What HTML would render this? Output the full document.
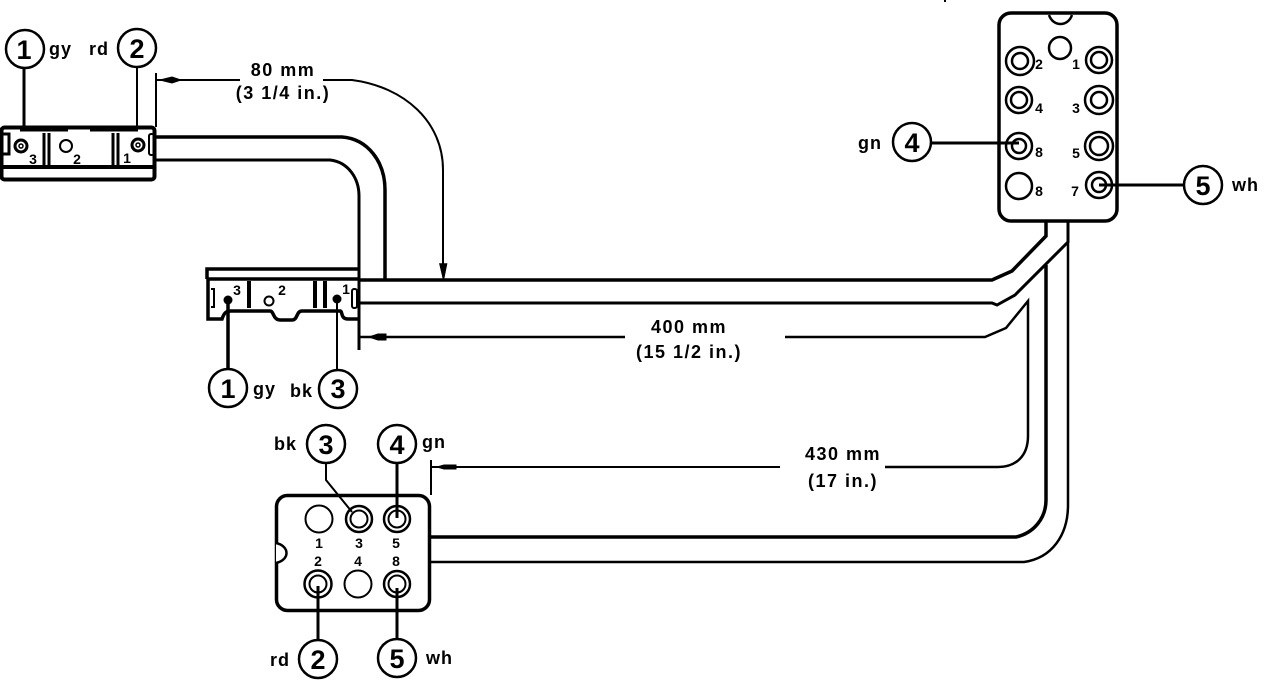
<!DOCTYPE html>
<html><head><meta charset="utf-8"><style>
html,body{margin:0;padding:0;background:#fff}
svg{display:block}
text{font-family:"Liberation Sans",sans-serif;font-weight:bold;fill:#000}
.n{font-size:27px;text-anchor:middle}
.l{font-size:18px;letter-spacing:1px}
.d{font-size:18px;text-anchor:middle;letter-spacing:1.500px}
.s{font-size:14px;text-anchor:middle}
</style></head><body>
<svg width="1264" height="680" viewBox="0 0 1264 680" xmlns="http://www.w3.org/2000/svg" fill="none" stroke="#000" stroke-width="3">
<path d="M945 0v2" stroke-width="2"/>
<!-- top-left connector -->
<rect x="1.500" y="127.500" width="153" height="52" rx="3" stroke-width="4"/>
<path d="M2 167H155" stroke-width="4"/>
<path d="M20 130H68M90 130H138" stroke-width="3"/>
<path d="M3 134H9V154H3M44 133V166M49 133V166M113 133V166M118 133V166" stroke-width="3"/>
<rect x="149" y="134" width="5" height="21" rx="2" stroke-width="2"/>
<circle cx="21" cy="146" r="6"/><circle cx="21" cy="146" r="2" stroke-width="1.500"/>
<circle cx="66" cy="146" r="6" stroke-width="2"/>
<circle cx="138" cy="145" r="6"/><circle cx="138" cy="145" r="2" stroke-width="1.500"/>
<text class="s" x="33" y="164" stroke="none">3</text><text class="s" x="77" y="164" stroke="none">2</text><text class="s" x="127" y="163" stroke="none">1</text>
<!-- top-left callouts -->
<circle cx="25" cy="49" r="19" stroke-width="2.500"/><circle cx="137" cy="48" r="19" stroke-width="2.500"/>
<text class="n" x="24" y="59" stroke="none">1</text><text class="n" x="137" y="58" stroke="none">2</text>
<text class="l" x="49" y="55" stroke="none">gy</text><text class="l" x="89" y="55" stroke="none">rd</text>
<path d="M24 68V127" stroke-width="3"/><path d="M137 68V127" stroke-width="2"/>
<path d="M156 73V127" stroke-width="2"/>
<!-- 80mm dimension -->
<path d="M157 80H240M323 80H352C405 87 443 122 443 170V270" stroke-width="2"/>
<path d="M160 80L172 77L181 80L172 83Z" fill="#000" stroke-width="1"/>
<path d="M440 264H446.500L443.500 279Z" fill="#000" stroke-width="1.500"/>
<text class="d" x="283" y="76" stroke="none">80 mm</text>
<text class="d" x="283" y="99" stroke="none">(3 1/4 in.)</text>
<!-- wires top-left to mid -->
<path d="M156 137H342C368 139 385 162 385 190V279" stroke-width="3.500"/>
<path d="M156 160H330C348 162 359 178 359 196V350" stroke-width="3"/>
<!-- mid connector -->
<path d="M207 279V269H358" stroke-width="3.500"/>
<path d="M207 279H358" stroke-width="3.500"/>
<path d="M208 279V319H222C224 313 226 311 231 311H270C274 311 273 320 280 320H292C298 320 296 311 302 311H340C343 311 340 319 348 319H358" stroke-width="3.500"/>
<path d="M211 289H214V307H211" stroke-width="2"/>
<path d="M249 281V308M315 281V308M325 281V308" stroke-width="4"/>
<rect x="352" y="289" width="5" height="19" rx="2" stroke-width="2"/>
<circle cx="228" cy="300" r="4.500" fill="#000" stroke="none"/><circle cx="337" cy="299" r="4.500" fill="#000" stroke="none"/>
<circle cx="269" cy="301" r="4.500" stroke-width="2"/>
<text class="s" x="237" y="295" stroke="none">3</text><text class="s" x="282" y="295" stroke="none">2</text><text class="s" x="346" y="294" stroke="none">1</text>
<path d="M228 300V369" stroke-width="3.500"/><path d="M337 300V369" stroke-width="2"/>
<circle cx="228" cy="388" r="19" stroke-width="2.500"/><circle cx="338" cy="389" r="19" stroke-width="2.500"/>
<text class="n" x="228" y="398" stroke="none">1</text><text class="n" x="338" y="398" stroke="none">3</text>
<text class="l" x="253" y="395" stroke="none">gy</text><text class="l" x="290" y="397" stroke="none">bk</text>
<!-- main bundle -->
<path d="M358 280H992L1012 271L1046 236V222" stroke-width="3.500"/>
<path d="M358 303H992L997 305L1015 295L1068 242V222" stroke-width="3"/>
<!-- 400mm dimension -->
<path d="M360 337H625M785 337H985L1006 328L1028 301V436C1028 456 1016 467 998 467H885" stroke-width="2.500"/>
<path d="M369 337L378 334H386V340H378Z" fill="#000" stroke-width="1"/>
<text class="d" x="689" y="333" stroke="none">400 mm</text>
<text class="d" x="689" y="358" stroke="none">(15 1/2 in.)</text>
<!-- 430mm dimension -->
<path d="M431 467H780" stroke-width="2"/>
<path d="M431 460V495" stroke-width="2"/>
<path d="M437 467L444 465H456V469H444Z" fill="#000" stroke-width="1"/>
<text class="d" x="843" y="460" stroke="none">430 mm</text>
<text class="d" x="843" y="487" stroke="none">(17 in.)</text>
<!-- bottom wires -->
<path d="M430 537H1016C1034 533 1046 518 1046 500V265" stroke-width="3.500"/>
<path d="M430 562H1024C1052 558 1068 535 1068 505V242" stroke-width="2.500"/>
<!-- bottom connector -->
<rect x="276.500" y="495.500" width="153" height="115" rx="11" stroke-width="3.500"/>
<path d="M276 543C290 546 290 560 276 563" fill="#fff" stroke-width="2.500"/>
<circle cx="319" cy="519" r="13.500" stroke-width="2"/>
<circle cx="359" cy="519" r="13" stroke-width="2.500"/><circle cx="359" cy="519" r="8.500" stroke-width="2"/>
<circle cx="397" cy="519" r="13" stroke-width="2.500"/><circle cx="397" cy="519" r="8.500" stroke-width="2"/>
<circle cx="318" cy="584" r="13.500" stroke-width="2.500"/><circle cx="318" cy="584" r="8.500" stroke-width="2"/>
<circle cx="358" cy="584" r="13.500" stroke-width="2"/>
<circle cx="397" cy="584" r="13" stroke-width="2.500"/><circle cx="397" cy="584" r="8.500" stroke-width="2"/>
<text class="s" x="319" y="548" stroke="none">1</text><text class="s" x="359" y="548" stroke="none">3</text><text class="s" x="396" y="548" stroke="none">5</text>
<text class="s" x="318" y="566" stroke="none">2</text><text class="s" x="358" y="566" stroke="none">4</text><text class="s" x="396" y="566" stroke="none">8</text>
<path d="M326 463V480L352 512" stroke-width="2"/>
<path d="M397 463V518" stroke-width="3"/><path d="M318 640V586" stroke-width="3"/><path d="M397 640V588" stroke-width="3"/>
<circle cx="326" cy="444" r="19" stroke-width="2.500"/><circle cx="397" cy="444" r="19" stroke-width="2.500"/>
<circle cx="318" cy="659" r="19" stroke-width="2.500"/><circle cx="397" cy="658" r="19" stroke-width="2.500"/>
<text class="n" x="326" y="454" stroke="none">3</text><text class="n" x="397" y="454" stroke="none">4</text>
<text class="n" x="318" y="669" stroke="none">2</text><text class="n" x="397" y="668" stroke="none">5</text>
<text class="l" x="274" y="450" stroke="none">bk</text><text class="l" x="422" y="448" stroke="none">gn</text>
<text class="l" x="270" y="666" stroke="none">rd</text><text class="l" x="426" y="664" stroke="none">wh</text>
<!-- right connector -->
<rect x="999" y="13" width="118" height="208" rx="12" stroke-width="3.500"/>
<path d="M1049 15C1053 27 1068 27 1072 15" stroke-width="2.500"/>
<circle cx="1060" cy="48" r="11" stroke-width="2.500"/>
<g stroke-width="2.500">
<circle cx="1020" cy="61" r="14"/><circle cx="1020" cy="61" r="8"/>
<circle cx="1099" cy="60" r="13"/><circle cx="1099" cy="60" r="8"/>
<circle cx="1019" cy="100" r="13"/><circle cx="1019" cy="100" r="8"/>
<circle cx="1099" cy="100" r="14"/><circle cx="1099" cy="100" r="8"/>
<circle cx="1019" cy="146" r="13"/><circle cx="1019" cy="146" r="7"/>
<circle cx="1099" cy="146" r="14"/><circle cx="1099" cy="146" r="9"/>
<circle cx="1019" cy="186" r="13"/>
<circle cx="1099" cy="185" r="13"/><circle cx="1099" cy="185" r="7"/>
</g>
<text class="s" x="1039" y="69" stroke="none">2</text><text class="s" x="1076" y="69" stroke="none">1</text>
<text class="s" x="1039" y="113" stroke="none">4</text><text class="s" x="1076" y="113" stroke="none">3</text>
<text class="s" x="1039" y="157" stroke="none">8</text><text class="s" x="1076" y="158" stroke="none">5</text>
<text class="s" x="1039" y="196" stroke="none">8</text><text class="s" x="1075" y="196" stroke="none">7</text>
<path d="M931 143H1019" stroke-width="3"/><path d="M1099 185H1184" stroke-width="3"/>
<circle cx="912" cy="142" r="19" stroke-width="2.500"/><circle cx="1203" cy="185" r="19" stroke-width="2.500"/>
<text class="n" x="912" y="152" stroke="none">4</text><text class="n" x="1203" y="195" stroke="none">5</text>
<text class="l" x="858" y="149" stroke="none">gn</text><text class="l" x="1232" y="191" stroke="none">wh</text>
</svg>
</body></html>
